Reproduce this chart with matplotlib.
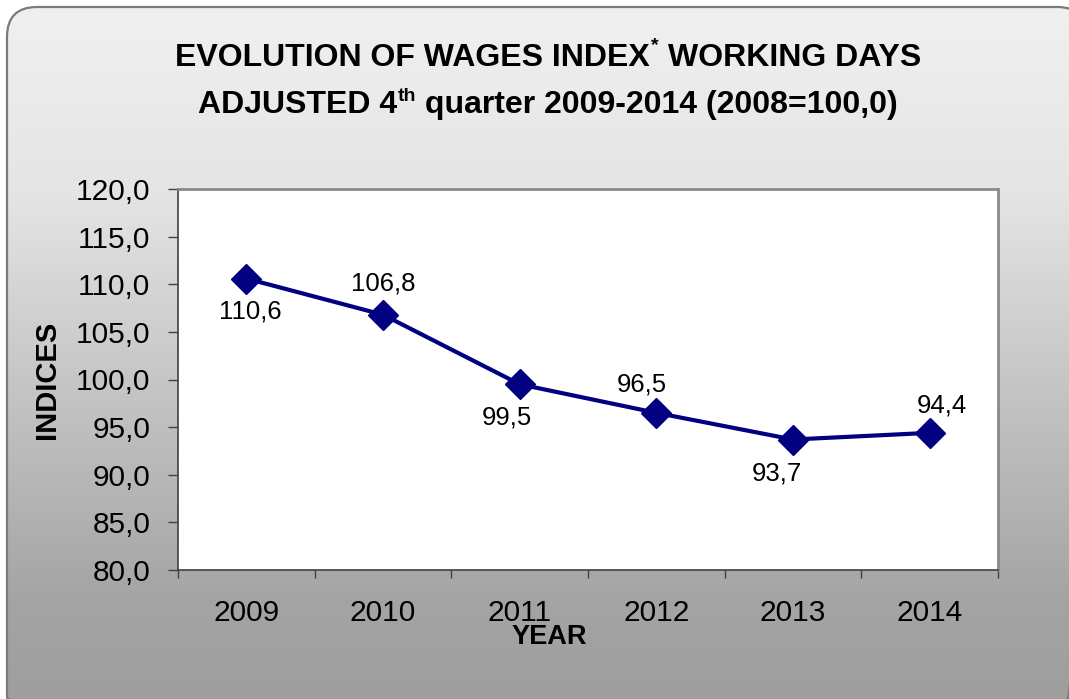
import numpy as np
import matplotlib
matplotlib.use("Agg")
import matplotlib.pyplot as plt
from matplotlib.patches import FancyBboxPatch

# ---- data ----
years = ["2009", "2010", "2011", "2012", "2013", "2014"]
values = [110.6, 106.8, 99.5, 96.5, 93.7, 94.4]
value_labels = ["110,6", "106,8", "99,5", "96,5", "93,7", "94,4"]
y_ticks = [80, 85, 90, 95, 100, 105, 110, 115, 120]
y_tick_labels = ["80,0", "85,0", "90,0", "95,0", "100,0", "105,0", "110,0", "115,0", "120,0"]
# label offsets in pixels (dx, dy up)
label_offsets = [(4, -33), (0, 31), (-13, -33), (-15, 28), (-16, -34), (12, 27)]

W, H = 1069, 699
FONT = "Liberation Sans"
plt.rcParams["font.family"] = [FONT, "DejaVu Sans"]

fig = plt.figure(figsize=(W / 100, H / 100), dpi=100)
fig.patch.set_facecolor("white")

# ---- background rounded gradient panel ----
bg = fig.add_axes([0, 0, 1, 1], zorder=0)
bg.set_xlim(0, W)
bg.set_ylim(H, 0)
bg.axis("off")
ys = np.arange(H)
gy = np.interp(ys, [0, 7, 190, 380, 600, 699], [242, 240, 229, 198, 164, 158]) / 255.0
grad = np.repeat(gy[:, None, None], 3, axis=2)
grad = np.repeat(grad, 2, axis=1)
im = bg.imshow(grad, extent=(0, W, H, 0), aspect="auto", interpolation="bilinear")
panel = FancyBboxPatch((7, 7), 1080, 720, boxstyle="round,pad=0,rounding_size=30",
                       facecolor="none", edgecolor="#7a7a7a", linewidth=1.6)
bg.add_patch(panel)
im.set_clip_path(panel)

# ---- main axes ----
L, R, T, B = 178, 998, 189, 570
ax = fig.add_axes([L / W, 1 - B / H, (R - L) / W, (B - T) / H], zorder=2)
ax.set_facecolor("white")
x = np.arange(len(years))
ax.plot(x, values, color="#000080", linewidth=3, marker="D", markersize=15,
        markerfacecolor="#000080", markeredgecolor="#000080", zorder=3, clip_on=False)
for xi, v, lab, (dx, dy) in zip(x, values, value_labels, label_offsets):
    ax.annotate(lab, (xi, v), xytext=(dx * 0.72, dy * 0.72), textcoords="offset points",
                ha="center", va="center", fontsize=18.5, color="black")

ax.set_xlim(-0.5, len(years) - 0.5)
ax.set_ylim(80, 120)
ax.set_yticks(y_ticks)
ax.set_yticklabels(y_tick_labels, fontsize=21.5)
ax.set_xticks(np.arange(len(years) + 1) - 0.5)
ax.set_xticklabels([])
ax.set_xticks(x, minor=True)
ax.set_xticklabels(years, minor=True, fontsize=21.5)
ax.tick_params(axis="x", which="major", direction="out", length=6, width=1, color="#404040")
ax.tick_params(axis="x", which="minor", length=0, pad=21)
ax.tick_params(axis="y", direction="out", length=7, width=1, color="#404040", pad=13)
for s in ["left", "bottom"]:
    ax.spines[s].set_color("#404040")
    ax.spines[s].set_linewidth(1.2)
for s in ["top", "right"]:
    ax.spines[s].set_color("#8a8a8a")
    ax.spines[s].set_linewidth(2)

# ---- axis titles ----
fig.text(47 / W, 1 - 380 / H, "INDICES", rotation=90, ha="center", va="center",
         fontsize=21, fontweight="bold", zorder=5)
fig.text(549 / W, 1 - 637 / H, "YEAR", ha="center", va="center",
         fontsize=19.5, fontweight="bold", zorder=5)

# ---- title with superscripts ----
renderer = fig.canvas.get_renderer()


def rich_line(pieces, cx_px, base_px):
    # pieces: (text, fontsize, raise_px, gap_before_px)
    objs = []
    total = 0
    for txt, fs, rise, gap in pieces:
        t = fig.text(0, 0, txt, fontsize=fs, fontweight="bold", va="baseline", ha="left", zorder=5)
        w = t.get_window_extent(renderer).width
        objs.append((t, w, rise, gap))
        total += gap + w
    xpos = cx_px - total / 2
    for t, w, rise, gap in objs:
        xpos += gap
        t.set_position((xpos / W, 1 - (base_px - rise) / H))
        xpos += w


TS = 23
sp = TS * 0.278 / 0.72
rich_line([("EVOLUTION OF WAGES INDEX", TS, 0, 0),
           ("*", 14, 16, 1),
           ("WORKING DAYS", TS, 0, sp)], 548, 66)
rich_line([("ADJUSTED 4", TS, 0, 0),
           ("th", 14, 12, 1),
           ("quarter 2009-2014 (2008=100,0)", TS, 0, sp)], 548, 113)

fig.savefig("out.png", dpi=100, facecolor=fig.get_facecolor())
